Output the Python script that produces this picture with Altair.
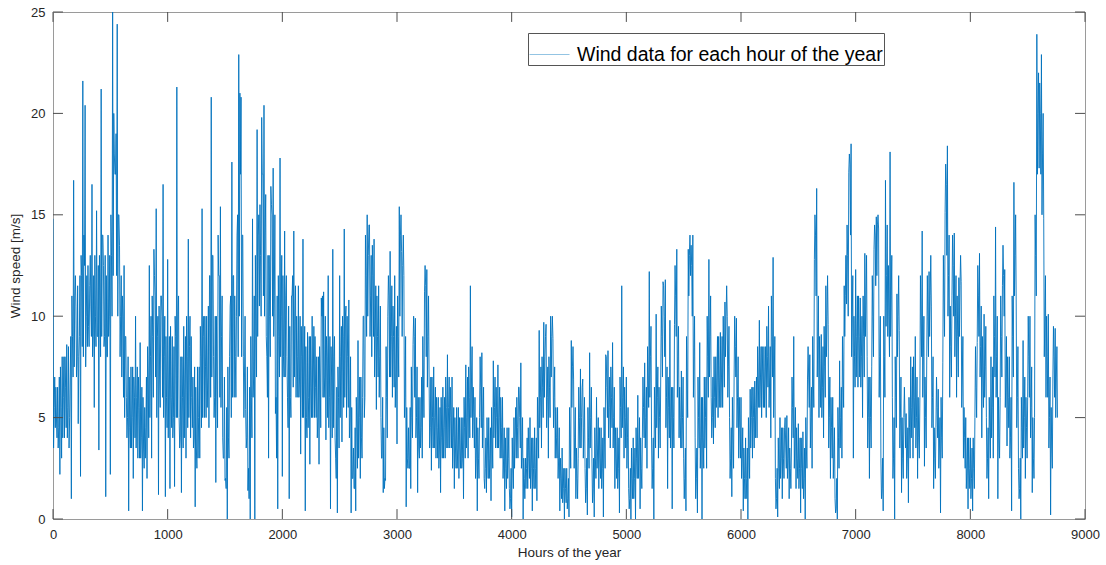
import altair as alt
import pandas as pd

HOUR_STEP = 5  # readings every 5 hours

# readings at hours 0, 20, 40, ... (peaks / troughs of the trace)
speed_0 = [14.8, 4.5, 6.5, 2.2, 8.0, 4.0, 8.6, 3.5, 1.0, 16.7, 10.5, 4.7, 2.1, 21.6, 20.4,
           8.5, 11.5, 16.5, 5.5, 15.2, 3.4, 21.2, 12.5, 1.1, 14.0, 2.2, 25.0, 17.0, 24.4, 13.5,
           7.0, 12.5, 6.0, 0.4, 7.5, 2.0, 10.0, 3.0, 8.7, 0.4, 5.5, 2.0, 12.5, 3.0, 13.3]
speed_1 = [15.3, 1.2, 11.0, 16.5, 1.1, 12.8, 1.5, 9.0, 1.6, 21.3, 5.0, 1.3, 9.5, 3.0, 13.8,
           4.0, 7.0, 0.6, 7.5, 3.0, 15.3, 5.0, 10.0, 4.5, 20.8, 8.0, 1.8, 14.0, 15.4, 4.0,
           1.9, 0.0, 8.0, 17.6, 6.0, 10.0, 22.9, 20.8, 8.0, 5.4, 1.4, 0.0, 14.8, 0.0, 19.2, 10.5]
speed_2 = [19.8, 20.4, 9.0, 3.0, 16.4, 17.3, 5.2, 0.5, 17.8, 2.1, 14.2, 8.0, 1.0, 11.0, 14.2,
           6.0, 11.5, 3.2, 13.8, 0.4, 9.2, 2.7, 10.0, 5.0, 8.0, 2.7, 10.9, 11.2, 3.9, 12.0,
           0.5, 13.3, 4.0, 0.3, 12.0, 3.8, 14.3, 5.0, 10.8, 0.3, 3.5, 0.4, 8.8, 2.0, 6.0]
speed_3 = [6.0, 15.0, 14.5, 8.0, 13.8, 5.4, 11.5, 5.0, 1.3, 1.9, 10.0, 13.2, 6.0, 12.0, 3.7,
           15.4, 13.2, 12.0, 0.6, 4.5, 1.5, 8.6, 9.9, 1.3, 6.0, 3.0, 11.2, 12.3, 7.0, 2.4,
           7.5, 3.0, 6.0, 1.3, 6.5, 3.0, 8.1, 3.5, 7.0, 1.5, 5.5, 2.0, 5.0, 1.0, 7.6, 3.0]
speed_4 = [11.5, 4.0, 6.0, 0.4, 5.0, 8.2, 2.0, 1.3, 5.0, 0.9, 7.8, 3.5, 7.6, 3.0, 6.0,
           0.4, 4.5, 1.5, 0.1, 5.0, 3.0, 6.5, 7.7, 0.0, 3.0, 1.5, 5.0, 0.4, 4.5, 0.9,
           9.3, 3.5, 9.7, 9.6, 3.0, 10.0, 8.9, 3.0, 5.5, 0.4, 3.5, 0.0, 2.5, 0.1, 8.8, 6.9]
speed_5 = [1.0, 3.0, 7.4, 6.9, 2.5, 0.2, 8.2, 3.0, 0.1, 6.0, 1.5, 4.5, 0.1, 8.1, 8.3,
           3.5, 8.7, 1.5, 4.5, 0.3, 11.5, 3.0, 7.0, 1.5, 0.0, 4.0, 0.0, 6.1, 0.5, 4.0,
           7.7, 2.5, 12.2, 4.0, 0.0, 10.1, 3.0, 7.0, 11.7, 11.8, 1.5, 9.8, 0.5, 9.6, 13.3, 4.0]
speed_6 = [7.3, 3.0, 0.4, 13.3, 12.0, 14.0, 4.0, 0.3, 8.7, 0.0, 7.0, 2.5, 12.8, 6.0, 3.7,
           8.0, 5.0, 9.2, 5.5, 10.7, 10.0, 5.0, 1.1, 7.0, 9.9, 3.0, 6.0, 0.4, 4.0, 0.0,
           6.4, 3.0, 6.8, 4.0, 9.8, 5.0, 8.5, 5.0, 10.5, 4.0, 12.9, 2.0, 0.1, 5.0, 1.0, 4.5]
speed_7 = [5.1, 1.0, 3.5, 9.0, 1.5, 4.7, 0.3, 4.3, 0.0, 6.9, 8.1, 2.5, 12.8, 16.3, 5.0,
           9.1, 4.0, 11.5, 9.6, 2.0, 6.0, 1.0, 0.0, 7.8, 3.0, 11.5, 10.6, 17.1, 18.5, 3.0,
           12.3, 6.5, 10.9, 5.0, 13.1, 8.0, 2.0, 7.5, 13.3, 14.9, 14.3, 3.0, 0.4, 16.7, 9.0]
speed_8 = [18.1, 6.0, 0.0, 11.1, 9.3, 1.3, 5.0, 5.2, 0.8, 8.0, 3.0, 9.0, 2.0, 6.0, 14.2,
           2.6, 8.0, 12.2, 10.5, 1.5, 4.5, 6.4, 0.3, 7.7, 15.1, 18.4, 6.0, 11.0, 14.1, 6.0,
           11.9, 11.7, 3.0, 5.0, 0.5, 4.0, 0.4, 5.0, 8.7, 13.1, 4.0, 10.1, 5.0, 1.0, 8.0, 3.0]
speed_9 = [14.4, 1.0, 6.0, 11.5, 12.3, 3.6, 8.0, 0.4, 16.6, 10.7, 2.5, 0.0, 8.8, 2.0,
           6.0, 10.0, 1.3, 5.0, 23.9, 17.3, 22.9, 14.8, 6.0, 10.1, 0.2, 7.0, 9.4, 5.0]

# readings of the dense core of the trace at hours 10, 30, 50, ...
core_0 = [5.5, 5.0, 4.5, 5.5, 6.0, 6.5, 5.5, 7.0, 9.0, 11.0, 8.0, 9.0, 12.0, 14.0, 10.0,
          9.5, 10.5, 9.0, 10.0, 9.0, 11.0, 14.0, 9.0, 8.0, 10.0, 13.0, 20.0, 19.0, 15.0, 10.0,
          10.0, 9.0, 5.0, 4.5, 5.0, 6.0, 6.0, 5.5, 4.0, 3.5, 4.5, 7.0, 8.0, 9.0, 11.0]
core_1 = [9.0, 7.0, 10.0, 8.0, 6.0, 7.0, 6.0, 5.0, 9.0, 10.0, 4.0, 6.0, 7.0, 8.0, 8.5,
          6.0, 4.0, 3.5, 5.0, 8.0, 9.0, 7.5, 7.0, 12.0, 13.0, 6.0, 7.0, 12.0, 9.0, 3.0,
          1.5, 4.0, 11.0, 12.0, 8.0, 15.0, 21.0, 14.0, 7.0, 4.0, 1.0, 6.0, 7.0, 9.0, 14.0, 13.0]
core_2 = [17.0, 14.0, 6.0, 10.0, 15.0, 11.0, 3.0, 9.0, 10.0, 8.0, 11.0, 4.5, 6.0, 12.0, 10.0,
          8.0, 7.0, 8.0, 7.0, 5.0, 6.0, 6.5, 7.0, 6.5, 5.0, 7.0, 11.0, 7.0, 8.0, 6.0,
          7.0, 8.0, 2.0, 6.0, 8.0, 9.0, 10.0, 8.0, 5.0, 2.0, 1.5, 4.5, 5.0, 4.0, 10.0]
core_3 = [12.0, 13.0, 11.0, 12.0, 9.0, 9.0, 8.0, 3.0, 1.5, 6.0, 11.0, 9.0, 9.0, 7.0, 9.0,
          14.0, 12.5, 6.0, 3.0, 2.5, 5.0, 9.0, 5.0, 3.5, 4.5, 7.0, 11.5, 9.0, 4.5, 5.0,
          5.0, 4.5, 3.5, 4.0, 4.5, 5.5, 5.5, 5.0, 4.0, 3.5, 3.5, 3.5, 3.0, 4.5, 5.0, 6.0]
core_4 = [7.0, 5.0, 3.0, 3.0, 6.5, 5.0, 2.5, 3.5, 3.0, 4.0, 5.5, 5.0, 5.0, 4.5, 3.0,
          2.5, 3.0, 1.0, 2.5, 4.0, 4.5, 5.0, 3.5, 2.0, 2.5, 3.0, 2.5, 2.5, 2.5, 4.5,
          6.0, 6.5, 8.0, 6.0, 6.5, 9.0, 6.0, 4.0, 3.0, 2.0, 1.5, 1.5, 1.0, 4.0, 7.5, 4.0]
core_5 = [2.0, 5.0, 5.0, 4.5, 1.5, 4.0, 5.0, 1.5, 3.0, 3.5, 3.0, 2.5, 4.0, 6.5, 5.5,
          6.0, 5.0, 3.0, 2.5, 5.5, 6.0, 5.0, 4.0, 1.0, 2.0, 2.0, 3.0, 3.5, 2.5, 5.5,
          5.0, 7.0, 8.0, 2.5, 5.0, 6.0, 5.0, 9.0, 10.0, 6.0, 5.5, 5.0, 5.0, 11.0, 8.0, 5.0]
core_6 = [5.0, 2.0, 7.0, 13.0, 12.5, 8.0, 2.0, 5.0, 4.0, 4.0, 5.0, 8.0, 9.0, 5.0, 6.0,
          7.0, 7.0, 7.0, 8.0, 10.0, 7.5, 3.0, 4.0, 8.5, 6.0, 4.5, 3.0, 2.0, 2.0, 3.5,
          5.0, 5.0, 5.5, 7.0, 7.0, 7.0, 7.0, 8.0, 7.0, 9.0, 7.0, 1.0, 2.5, 3.0, 3.0, 3.5]
core_7 = [3.0, 2.5, 5.5, 4.0, 3.0, 2.5, 2.5, 2.0, 3.5, 7.0, 5.0, 7.0, 14.0, 9.0, 7.0,
          6.5, 7.5, 10.0, 5.0, 4.5, 3.0, 0.5, 4.0, 5.0, 7.0, 11.0, 13.0, 17.5, 10.0, 8.0,
          9.0, 9.0, 8.0, 9.0, 11.0, 5.0, 5.0, 10.0, 14.0, 14.5, 8.0, 1.5, 8.0, 12.0, 10.0]
core_8 = [11.0, 3.0, 6.0, 10.0, 5.0, 3.0, 5.0, 3.0, 4.5, 5.5, 6.0, 5.0, 4.0, 10.0, 8.0,
          5.0, 10.0, 11.0, 6.0, 3.0, 5.5, 3.5, 4.0, 11.0, 16.5, 12.0, 8.5, 12.5, 10.0, 9.0,
          11.5, 7.0, 4.0, 2.5, 2.5, 2.0, 2.5, 6.5, 11.0, 8.5, 7.0, 7.5, 3.0, 4.5, 5.5, 9.0]
core_9 = [8.0, 4.0, 9.0, 12.0, 7.0, 6.0, 4.0, 9.0, 13.0, 6.0, 1.5, 4.5, 5.0, 4.5,
          8.0, 5.5, 3.0, 13.0, 20.0, 20.0, 18.0, 10.0, 8.0, 5.0, 3.5, 8.0, 7.0]

# lower / upper edge of the dense hourly band, one reading per 20-hour gap
lo_0 = [3.5, 4.0, 3.5, 3.0, 4.0, 4.5, 4.0, 5.0, 7.0, 7.5, 7.0, 8.0, 8.5, 8.0, 7.5,
        8.5, 9.0, 8.0, 8.5, 9.0, 8.0, 9.0, 8.5, 8.0, 9.0, 10.0, 12.0, 12.0, 10.0, 8.0,
        6.0, 5.0, 4.0, 3.5, 3.5, 4.0, 3.5, 3.0, 3.0, 2.5, 3.0, 4.0, 5.0, 6.0, 7.0]
hi_0 = [7.0, 6.5, 7.0, 7.5, 8.0, 8.0, 8.5, 9.0, 11.0, 12.0, 11.5, 12.0, 13.0, 12.5, 12.0,
        12.5, 13.0, 12.0, 13.0, 12.5, 13.0, 14.0, 13.0, 12.0, 13.0, 15.0, 18.0, 17.0, 15.0, 12.0,
        11.0, 9.0, 8.0, 7.0, 7.5, 7.0, 7.5, 7.0, 6.5, 6.0, 7.0, 8.5, 10.0, 11.0, 12.0]
lo_1 = [5.0, 5.5, 6.0, 5.0, 4.5, 4.0, 4.5, 4.0, 5.0, 5.0, 3.5, 3.5, 4.0, 4.5, 5.0, 4.5, 3.5, 2.5, 3.0, 4.5,
        5.0, 5.0, 5.5, 6.0, 7.0, 5.0, 4.5, 6.0, 5.5, 3.0, 2.0, 3.0, 5.0, 6.0, 6.0, 8.0, 10.0, 8.0, 5.0, 3.5,
        2.5, 4.0, 6.0, 7.0, 9.0, 10.0]
hi_1 = [10.0, 10.5, 11.0, 10.0, 9.0, 9.0, 9.5, 8.5, 10.0, 11.0, 8.0, 8.0, 9.0, 10.0, 10.0, 9.0, 7.5, 6.5, 7.5, 9.5,
        10.0, 10.0, 10.5, 12.0, 13.0, 10.0, 10.0, 12.0, 11.0, 7.0, 5.5, 7.5, 10.5, 12.0, 11.0, 14.0, 17.0, 14.0, 10.0, 7.5,
        6.5, 9.0, 11.0, 13.0, 15.0, 15.5]
lo_2 = [11.0, 10.0, 8.0, 8.0, 10.0, 9.0, 6.0, 7.0, 8.0, 7.0, 7.0, 6.0, 5.0, 6.5, 7.0, 6.0, 6.0, 5.0, 5.0, 4.0,
        4.5, 5.0, 5.0, 5.0, 4.0, 4.5, 6.0, 6.0, 5.0, 4.5, 4.0, 4.5, 3.0, 3.5, 5.0, 5.5, 6.0, 5.5, 4.0, 2.0,
        1.5, 2.5, 3.0, 3.0, 5.0]
hi_2 = [17.0, 16.0, 13.0, 13.0, 15.5, 15.0, 11.0, 12.0, 13.0, 12.0, 12.0, 10.5, 9.5, 11.0, 11.5, 10.0, 10.0, 9.5, 9.5, 8.5,
        9.0, 9.0, 9.5, 9.0, 8.0, 8.5, 10.0, 10.0, 9.0, 9.0, 8.5, 9.0, 6.5, 7.5, 9.5, 10.0, 10.5, 10.0, 8.0, 5.5,
        4.5, 6.0, 7.0, 7.0, 10.0]
lo_3 = [9.0, 10.0, 9.0, 9.0, 7.0, 7.0, 6.0, 3.0, 2.0, 4.0, 7.0, 7.0, 6.5, 5.5, 7.0, 10.0, 9.0, 5.0, 2.5, 2.5,
        4.0, 6.0, 4.0, 3.0, 3.5, 5.0, 8.0, 6.5, 3.5, 3.5, 3.5, 3.0, 2.5, 3.0, 3.0, 3.5, 3.5, 3.5, 2.5, 2.5,
        2.5, 2.5, 2.5, 3.0, 3.5, 4.0]
hi_3 = [14.0, 14.5, 13.0, 13.5, 11.5, 11.0, 10.5, 6.0, 4.5, 8.5, 12.0, 11.5, 10.5, 9.5, 11.0, 15.0, 14.0, 9.0, 5.5, 5.5,
        7.5, 10.0, 7.5, 6.0, 7.0, 9.0, 12.5, 11.0, 7.0, 7.0, 6.5, 6.0, 5.5, 6.0, 6.0, 7.0, 7.0, 6.5, 5.5, 5.0,
        5.5, 5.0, 5.0, 6.0, 7.0, 7.5]
lo_4 = [5.0, 3.5, 2.0, 2.0, 4.5, 3.5, 1.5, 2.0, 2.0, 2.5, 4.0, 3.5, 3.5, 3.0, 2.0, 1.5, 2.0, 0.5, 1.5, 2.5,
        3.0, 3.5, 2.5, 1.0, 1.5, 2.0, 1.5, 1.5, 1.5, 3.0, 4.5, 5.0, 6.0, 4.5, 5.0, 7.0, 4.5, 3.0, 2.0, 1.0,
        0.8, 0.8, 0.5, 2.5, 5.5, 2.5]
hi_4 = [8.5, 6.5, 5.0, 4.5, 8.0, 6.5, 4.0, 5.0, 4.5, 5.5, 7.0, 6.5, 6.5, 6.0, 4.5, 4.0, 4.5, 2.5, 4.0, 5.5,
        6.0, 6.5, 5.0, 3.0, 4.0, 4.5, 4.0, 4.0, 4.0, 6.0, 7.5, 8.0, 9.0, 7.5, 8.0, 10.0, 7.5, 5.5, 4.5, 3.0,
        2.5, 2.5, 2.0, 5.5, 8.5, 5.5]
lo_5 = [1.0, 3.5, 3.5, 3.0, 0.8, 2.5, 3.5, 0.8, 2.0, 2.5, 2.0, 1.5, 2.5, 5.0, 4.0, 4.5, 3.5, 2.0, 1.5, 4.0,
        4.5, 3.5, 2.5, 0.5, 1.0, 1.0, 2.0, 2.0, 1.5, 4.0, 3.5, 5.5, 6.0, 1.5, 3.5, 4.5, 3.5, 7.0, 8.0, 4.5,
        4.0, 3.5, 3.5, 9.0, 6.0, 3.5]
hi_5 = [3.5, 6.5, 6.5, 6.0, 3.0, 5.5, 6.5, 3.0, 4.5, 5.0, 4.5, 4.0, 5.5, 8.0, 7.0, 7.5, 6.5, 4.5, 4.0, 7.0,
        7.5, 6.5, 5.5, 2.5, 3.5, 3.5, 4.5, 5.0, 4.0, 7.0, 6.5, 8.5, 9.5, 4.0, 6.5, 7.5, 6.5, 10.5, 11.5, 7.5,
        7.0, 6.5, 6.5, 12.5, 9.5, 6.5]
lo_6 = [3.5, 1.0, 5.0, 11.0, 10.0, 6.0, 1.0, 3.5, 2.5, 2.5, 3.5, 6.0, 7.0, 4.0, 4.5, 5.5, 5.5, 5.5, 6.5, 8.0,
        6.0, 2.0, 2.5, 7.0, 4.5, 3.0, 2.0, 1.0, 1.0, 2.0, 3.5, 3.5, 4.0, 5.5, 5.5, 5.5, 5.5, 6.5, 5.5, 7.0,
        5.0, 0.5, 1.5, 2.0, 2.0, 2.5]
hi_6 = [7.0, 3.5, 9.0, 14.0, 13.5, 10.0, 3.5, 7.0, 6.0, 6.0, 7.0, 10.0, 11.0, 7.0, 8.0, 9.0, 9.0, 9.0, 10.0, 11.5,
        9.5, 4.5, 6.0, 10.0, 8.0, 6.0, 4.5, 3.5, 3.5, 5.0, 6.5, 6.5, 7.0, 8.5, 8.5, 8.5, 8.5, 9.5, 8.5, 11.0,
        9.0, 2.5, 4.0, 4.5, 4.5, 5.0]
lo_7 = [2.0, 1.5, 4.0, 2.5, 2.0, 1.5, 1.5, 1.0, 2.5, 5.5, 3.5, 5.5, 11.0, 7.0, 5.5, 5.0, 6.0, 8.0, 3.5, 3.0,
        2.0, 0.3, 2.5, 3.5, 5.5, 9.0, 10.0, 14.0, 8.0, 6.5, 7.0, 7.0, 6.5, 7.0, 9.0, 3.5, 3.5, 8.0, 11.5, 12.0,
        6.0, 1.0, 6.0, 9.5, 8.0]
hi_7 = [4.5, 3.5, 7.0, 5.5, 4.5, 4.0, 4.0, 3.5, 5.0, 8.5, 6.5, 9.0, 15.0, 11.0, 9.0, 8.5, 9.5, 12.0, 7.0, 6.0,
        4.5, 2.0, 5.5, 6.5, 9.0, 13.0, 14.5, 18.0, 12.0, 10.0, 11.0, 11.0, 10.0, 11.0, 13.0, 7.0, 7.0, 12.0, 14.5, 15.0,
        10.0, 3.0, 10.0, 14.5, 12.5]
lo_8 = [9.0, 2.0, 4.5, 8.0, 3.5, 2.0, 3.5, 2.0, 3.0, 4.0, 4.5, 3.5, 3.0, 8.0, 6.0, 3.5, 8.0, 9.0, 4.5, 2.0,
        4.0, 2.5, 3.0, 9.0, 13.0, 10.0, 7.0, 10.0, 8.0, 7.0, 9.0, 5.5, 2.5, 1.5, 1.5, 1.0, 1.5, 5.0, 9.0, 7.0,
        5.5, 6.0, 2.0, 3.0, 4.0, 7.0]
hi_8 = [13.0, 5.0, 8.0, 12.0, 7.0, 5.0, 6.5, 4.5, 6.0, 7.5, 8.0, 7.0, 6.0, 12.0, 10.0, 7.0, 12.0, 13.0, 8.0, 4.5,
        7.0, 5.0, 6.0, 13.0, 17.5, 14.0, 10.5, 14.0, 12.0, 11.0, 13.0, 9.0, 5.5, 4.0, 4.0, 3.5, 4.0, 8.5, 12.5, 10.5,
        9.0, 9.5, 4.5, 6.0, 7.5, 11.0]
lo_9 = [6.0, 3.0, 7.0, 10.0, 5.5, 4.5, 3.0, 7.0, 11.0, 4.5, 1.0, 3.0, 3.5, 3.0, 6.0, 4.0, 2.0, 11.0, 17.0, 17.0,
        15.0, 8.0, 6.0, 3.5, 2.5, 6.0, 5.0]
hi_9 = [10.0, 6.0, 11.0, 13.5, 9.0, 8.0, 6.0, 11.0, 15.0, 8.5, 3.0, 6.0, 7.0, 6.0, 10.0, 7.5, 5.0, 15.0, 22.0, 21.5,
        20.0, 12.0, 10.0, 7.0, 5.5, 9.5, 8.5]

peaks = (speed_0 + speed_1 + speed_2 + speed_3 + speed_4 + speed_5 + speed_6 +
         speed_7 + speed_8 + speed_9)
cores = (core_0 + core_1 + core_2 + core_3 + core_4 + core_5 + core_6 +
         core_7 + core_8 + core_9)
band_lo = lo_0 + lo_1 + lo_2 + lo_3 + lo_4 + lo_5 + lo_6 + lo_7 + lo_8 + lo_9
band_hi = hi_0 + hi_1 + hi_2 + hi_3 + hi_4 + hi_5 + hi_6 + hi_7 + hi_8 + hi_9

# arrange the readings in time order: peak, band edge, core, band edge, next peak
speed = []
n_gaps = min(len(peaks) - 1, len(cores), len(band_lo), len(band_hi))
for k in range(len(peaks)):
    speed.append(peaks[k])
    if k < n_gaps:
        if peaks[k + 1] >= peaks[k]:
            speed += [band_hi[k], cores[k], band_lo[k]]
        else:
            speed += [band_lo[k], cores[k], band_hi[k]]
hours = [i * HOUR_STEP for i in range(len(speed))]

x_ticks = [0, 1000, 2000, 3000, 4000, 5000, 6000, 7000, 8000, 9000]
y_ticks = [0, 5, 10, 15, 20, 25]
series_name = "Wind data for each hour of the year"

X_TICK_LEN = 87    # inward tick length along x (hours)
Y_TICK_LEN = 0.49  # inward tick length along y (m/s)

FONT = "Liberation Sans"
TXT = "#262626"
LINE = "#0072BD"

df = pd.DataFrame({"hour": hours, "speed": speed, "series": series_name})

x_scale = alt.Scale(domain=[0, 9000], nice=False, zero=False)
y_scale = alt.Scale(domain=[0, 25], nice=False)

x_axis = alt.Axis(values=x_ticks, title="Hours of the year", ticks=False,
                  domain=False, grid=False, format="d", labelFlush=False,
                  labelFont=FONT, labelFontSize=13, labelColor=TXT, labelPadding=9,
                  titleFont=FONT, titleFontSize=13.5, titleFontWeight="normal",
                  titleColor=TXT, titlePadding=4)
y_axis = alt.Axis(values=y_ticks, title="Wind speed [m/s]", ticks=False,
                  domain=False, grid=False, labelFlush=False,
                  labelFont=FONT, labelFontSize=13, labelColor=TXT, labelPadding=8,
                  titleFont=FONT, titleFontSize=13.5, titleFontWeight="normal",
                  titleColor=TXT, titlePadding=8)

line = alt.Chart(df).mark_line(strokeWidth=0.9, clip=True).encode(
    x=alt.X("hour:Q", scale=x_scale, axis=x_axis),
    y=alt.Y("speed:Q", scale=y_scale, axis=y_axis),
    color=alt.Color("series:N", scale=alt.Scale(range=[LINE]),
                    legend=alt.Legend(title=None, orient="none", legendX=475, legendY=21,
                                      symbolType="stroke", symbolSize=1600,
                                      symbolStrokeWidth=0.7, symbolOpacity=0.6,
                                      labelFont=FONT,
                                      labelFontSize=19.5, labelColor="#000000",
                                      labelLimit=0, labelOffset=7,
                                      strokeColor="#555555",
                                      fillColor="#ffffff", padding=1)),
)

xt = pd.DataFrame({"t": x_ticks, "b0": 0.0, "b1": Y_TICK_LEN,
                   "t0": 25.0, "t1": 25.0 - Y_TICK_LEN})
yt = pd.DataFrame({"t": y_ticks, "l0": 0.0, "l1": float(X_TICK_LEN),
                   "r0": 9000.0, "r1": 9000.0 - X_TICK_LEN})
tick_style = dict(color="#4d4d4d", strokeWidth=1)

bottom_ticks = alt.Chart(xt).mark_rule(**tick_style).encode(
    x=alt.X("t:Q", scale=x_scale, axis=x_axis),
    y=alt.Y("b0:Q", scale=y_scale, axis=y_axis), y2="b1:Q")
top_ticks = alt.Chart(xt).mark_rule(**tick_style).encode(
    x=alt.X("t:Q", scale=x_scale, axis=x_axis),
    y=alt.Y("t0:Q", scale=y_scale, axis=y_axis), y2="t1:Q")
left_ticks = alt.Chart(yt).mark_rule(**tick_style).encode(
    y=alt.Y("t:Q", scale=y_scale, axis=y_axis),
    x=alt.X("l0:Q", scale=x_scale, axis=x_axis), x2="l1:Q")
right_ticks = alt.Chart(yt).mark_rule(**tick_style).encode(
    y=alt.Y("t:Q", scale=y_scale, axis=y_axis),
    x=alt.X("r0:Q", scale=x_scale, axis=x_axis), x2="r1:Q")

chart = alt.layer(line, bottom_ticks, top_ticks, left_ticks, right_ticks).properties(
    width=1032, height=507,
    padding={"left": 53, "top": 12, "right": 21, "bottom": 46},
    autosize=alt.AutoSizeParams(type="none"),
    background="#ffffff",
).configure_view(stroke="#9a9a9a", strokeWidth=1)

chart.save("out.html", embed_options={"renderer": "svg", "actions": False})
